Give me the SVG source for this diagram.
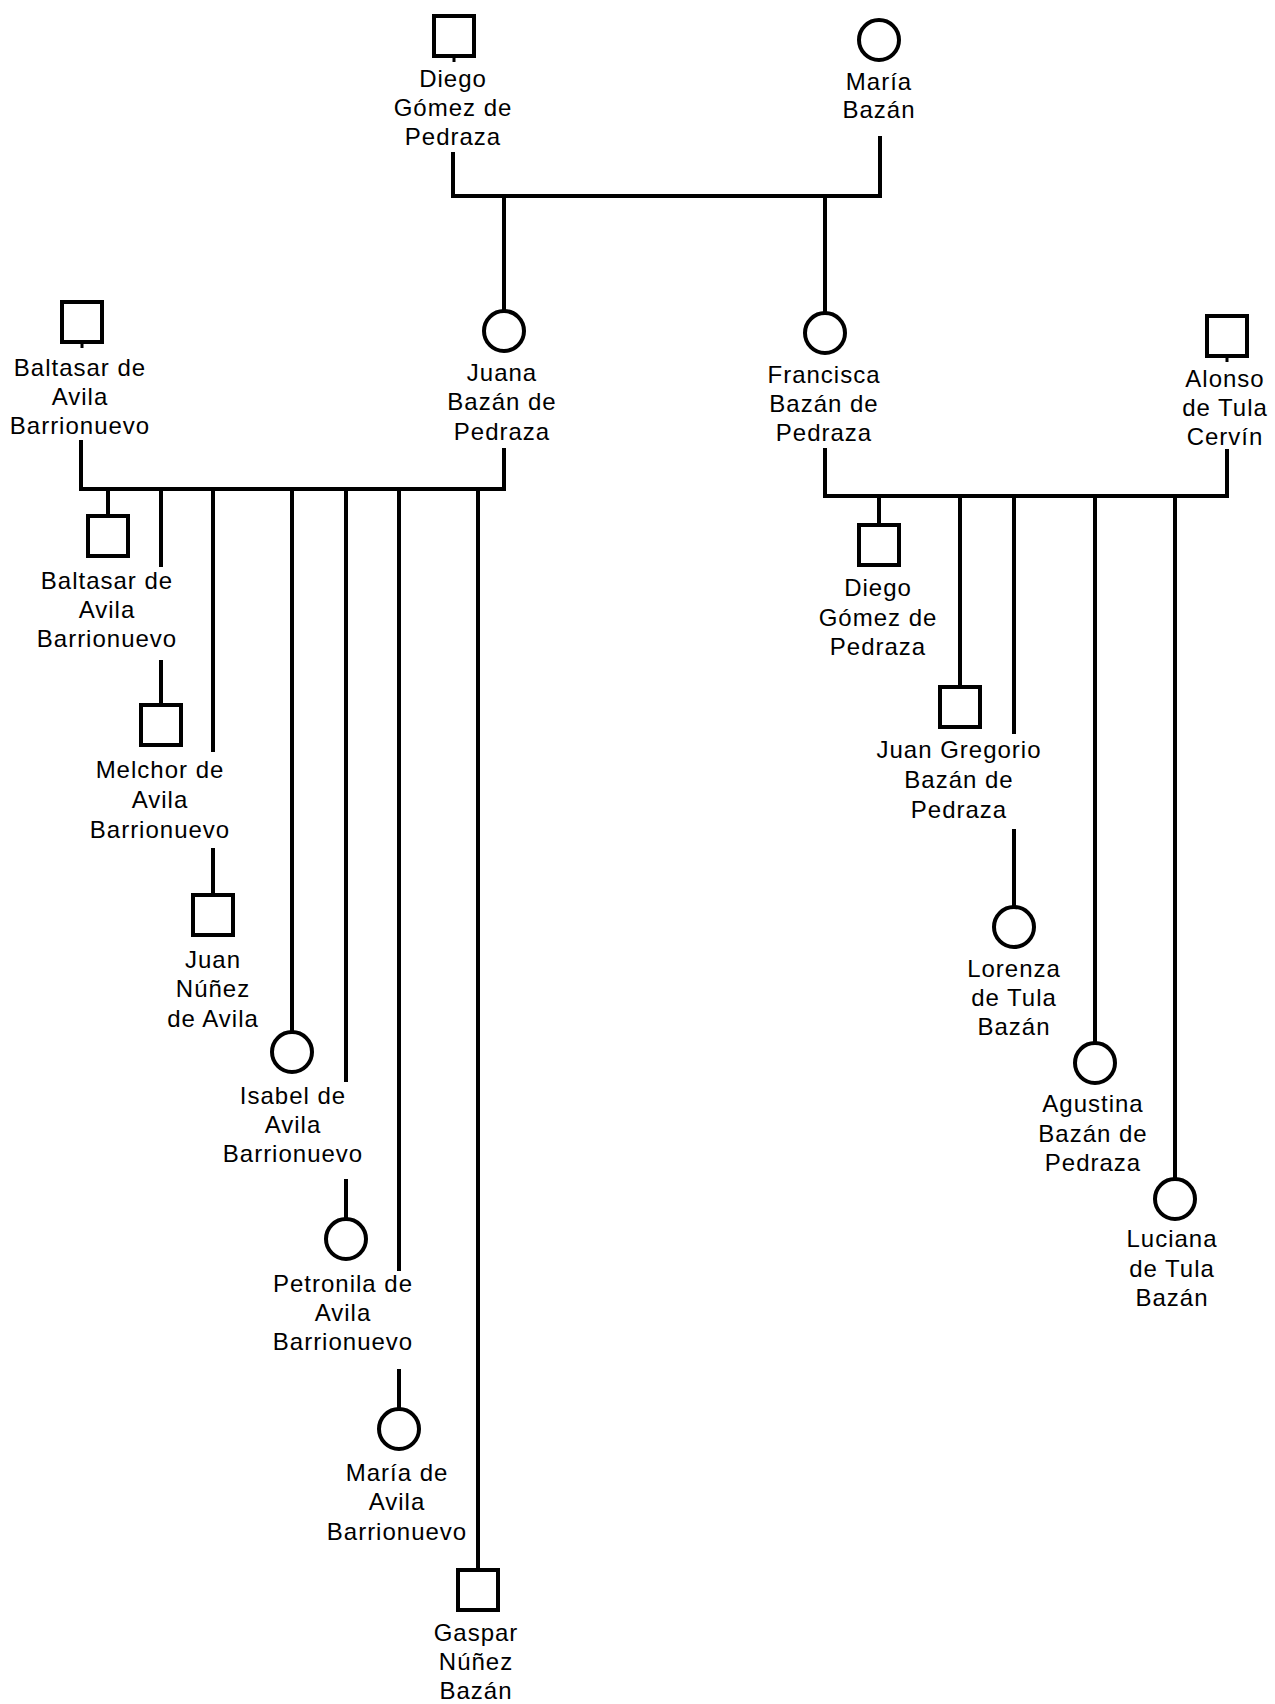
<svg xmlns="http://www.w3.org/2000/svg" width="1275" height="1704" viewBox="0 0 1275 1704">
  <style>
    .bg { fill: #ffffff; }
    .male { fill: #ffffff; stroke: #000000; stroke-width: 4; }
    .female { fill: #ffffff; stroke: #000000; stroke-width: 4; }
    .link { fill: none; stroke: #000000; stroke-width: 4; stroke-linecap: butt; }
    .stub { fill: none; stroke: #000000; stroke-width: 3; }
    .name { font-family: "Liberation Sans", Arial, sans-serif; font-size: 24px; letter-spacing: 1px; fill: #000000; text-anchor: middle; }
  </style>
  <rect class="bg" x="0" y="0" width="1275" height="1704"/>

  <!-- connectors -->
  <g id="connectors">
    <!-- Diego Gómez de Pedraza + María Bazán -->
    <path class="link" d="M453 152 V196 H880 V136"/>
    <path class="link" d="M504 196 V311"/>
    <path class="link" d="M825 196 V313"/>

    <!-- Baltasar de Avila Barrionuevo + Juana Bazán de Pedraza -->
    <path class="link" d="M81 440 V489 H504 V448"/>
    <path class="link" d="M108 489 V516"/>
    <path class="link" d="M161 489 V567 M161 660 V705"/>
    <path class="link" d="M213 489 V752 M213 848 V895"/>
    <path class="link" d="M292 489 V1032"/>
    <path class="link" d="M346 489 V1082 M346 1179 V1219"/>
    <path class="link" d="M399 489 V1271 M399 1369 V1409"/>
    <path class="link" d="M478 489 V1570"/>

    <!-- Francisca Bazán de Pedraza + Alonso de Tula Cervín -->
    <path class="link" d="M825 448 V496 H1227 V449"/>
    <path class="link" d="M879 496 V525"/>
    <path class="link" d="M960 496 V687"/>
    <path class="link" d="M1014 496 V734 M1014 829 V907"/>
    <path class="link" d="M1095 496 V1043"/>
    <path class="link" d="M1175 496 V1179"/>
  </g>

  <!-- generation I -->
  <g id="diego-gomez-de-pedraza">
    <rect class="male" x="434" y="16" width="40" height="40"/>
    <path class="stub" d="M454 58 V62"/>
    <text class="name" x="453" y="87">Diego</text>
    <text class="name" x="453" y="116">Gómez de</text>
    <text class="name" x="453" y="145">Pedraza</text>
  </g>
  <g id="maria-bazan">
    <circle class="female" cx="879" cy="40" r="20"/>
    <text class="name" x="879" y="90">María</text>
    <text class="name" x="879" y="118">Bazán</text>
  </g>

  <!-- generation II -->
  <g id="baltasar-de-avila-barrionuevo">
    <rect class="male" x="62" y="302" width="40" height="40"/>
    <path class="stub" d="M82 344 V348"/>
    <text class="name" x="80" y="376">Baltasar de</text>
    <text class="name" x="80" y="405">Avila</text>
    <text class="name" x="80" y="434">Barrionuevo</text>
  </g>
  <g id="juana-bazan-de-pedraza">
    <circle class="female" cx="504" cy="331" r="20"/>
    <text class="name" x="502" y="381">Juana</text>
    <text class="name" x="502" y="410">Bazán de</text>
    <text class="name" x="502" y="440">Pedraza</text>
  </g>
  <g id="francisca-bazan-de-pedraza">
    <circle class="female" cx="825" cy="333" r="20"/>
    <text class="name" x="824" y="383">Francisca</text>
    <text class="name" x="824" y="412">Bazán de</text>
    <text class="name" x="824" y="441">Pedraza</text>
  </g>
  <g id="alonso-de-tula-cervin">
    <rect class="male" x="1207" y="316" width="40" height="40"/>
    <path class="stub" d="M1227 358 V362"/>
    <text class="name" x="1225" y="387">Alonso</text>
    <text class="name" x="1225" y="416">de Tula</text>
    <text class="name" x="1225" y="445">Cervín</text>
  </g>

  <!-- generation III, left family -->
  <g id="baltasar-de-avila-barrionuevo-hijo">
    <rect class="male" x="88" y="516" width="40" height="40"/>
    <text class="name" x="107" y="589">Baltasar de</text>
    <text class="name" x="107" y="618">Avila</text>
    <text class="name" x="107" y="647">Barrionuevo</text>
  </g>
  <g id="melchor-de-avila-barrionuevo">
    <rect class="male" x="141" y="705" width="40" height="40"/>
    <text class="name" x="160" y="778">Melchor de</text>
    <text class="name" x="160" y="808">Avila</text>
    <text class="name" x="160" y="838">Barrionuevo</text>
  </g>
  <g id="juan-nunez-de-avila">
    <rect class="male" x="193" y="895" width="40" height="40"/>
    <text class="name" x="213" y="968">Juan</text>
    <text class="name" x="213" y="997">Núñez</text>
    <text class="name" x="213" y="1027">de Avila</text>
  </g>
  <g id="isabel-de-avila-barrionuevo">
    <circle class="female" cx="292" cy="1052" r="20"/>
    <text class="name" x="293" y="1104">Isabel de</text>
    <text class="name" x="293" y="1133">Avila</text>
    <text class="name" x="293" y="1162">Barrionuevo</text>
  </g>
  <g id="petronila-de-avila-barrionuevo">
    <circle class="female" cx="346" cy="1239" r="20"/>
    <text class="name" x="343" y="1292">Petronila de</text>
    <text class="name" x="343" y="1321">Avila</text>
    <text class="name" x="343" y="1350">Barrionuevo</text>
  </g>
  <g id="maria-de-avila-barrionuevo">
    <circle class="female" cx="399" cy="1429" r="20"/>
    <text class="name" x="397" y="1481">María de</text>
    <text class="name" x="397" y="1510">Avila</text>
    <text class="name" x="397" y="1540">Barrionuevo</text>
  </g>
  <g id="gaspar-nunez-bazan">
    <rect class="male" x="458" y="1570" width="40" height="40"/>
    <text class="name" x="476" y="1641">Gaspar</text>
    <text class="name" x="476" y="1670">Núñez</text>
    <text class="name" x="476" y="1699">Bazán</text>
  </g>

  <!-- generation III, right family -->
  <g id="diego-gomez-de-pedraza-hijo">
    <rect class="male" x="859" y="525" width="40" height="40"/>
    <text class="name" x="878" y="596">Diego</text>
    <text class="name" x="878" y="626">Gómez de</text>
    <text class="name" x="878" y="655">Pedraza</text>
  </g>
  <g id="juan-gregorio-bazan-de-pedraza">
    <rect class="male" x="940" y="687" width="40" height="40"/>
    <text class="name" x="959" y="758">Juan Gregorio</text>
    <text class="name" x="959" y="788">Bazán de</text>
    <text class="name" x="959" y="818">Pedraza</text>
  </g>
  <g id="lorenza-de-tula-bazan">
    <circle class="female" cx="1014" cy="927" r="20"/>
    <text class="name" x="1014" y="977">Lorenza</text>
    <text class="name" x="1014" y="1006">de Tula</text>
    <text class="name" x="1014" y="1035">Bazán</text>
  </g>
  <g id="agustina-bazan-de-pedraza">
    <circle class="female" cx="1095" cy="1063" r="20"/>
    <text class="name" x="1093" y="1112">Agustina</text>
    <text class="name" x="1093" y="1142">Bazán de</text>
    <text class="name" x="1093" y="1171">Pedraza</text>
  </g>
  <g id="luciana-de-tula-bazan">
    <circle class="female" cx="1175" cy="1199" r="20"/>
    <text class="name" x="1172" y="1247">Luciana</text>
    <text class="name" x="1172" y="1277">de Tula</text>
    <text class="name" x="1172" y="1306">Bazán</text>
  </g>
</svg>
